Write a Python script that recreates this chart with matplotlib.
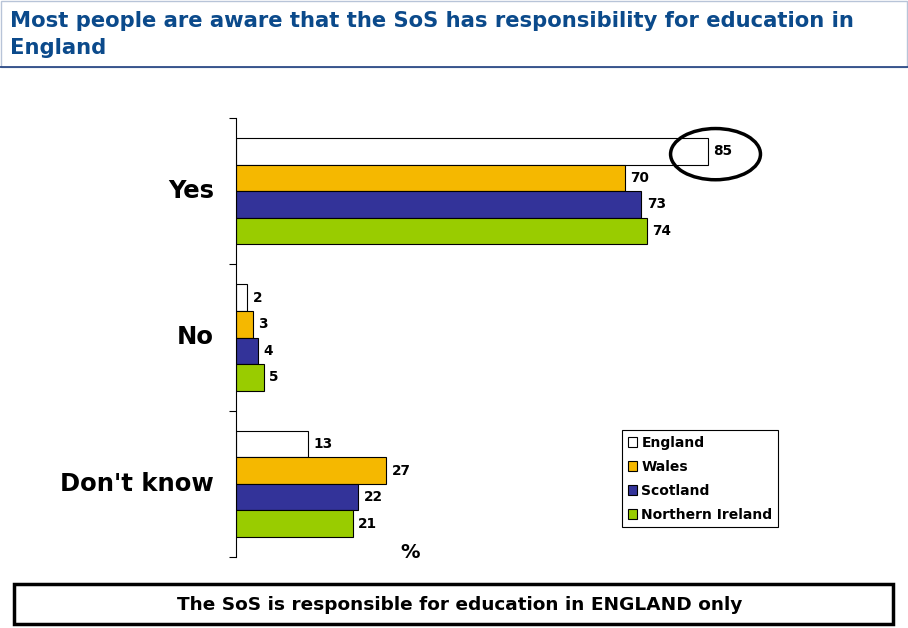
import numpy as np
import matplotlib.pyplot as plt
from matplotlib.patches import Rectangle, Ellipse

# data
categories = ["Yes", "No", "Don't know"]
england = [85, 2, 13]
wales = [70, 3, 27]
scotland = [73, 4, 22]
n_ireland = [74, 5, 21]
series_names = ["England", "Wales", "Scotland", "Northern Ireland"]
series_colors = ["#FFFFFF", "#F5B800", "#333399", "#99CC00"]

W, H = 908, 628
fig = plt.figure(figsize=(W / 100, H / 100), dpi=100)

# title panel frame
fig.patches.append(Rectangle((1 / W, 1 - 67 / H), 1 - 2 / W, 66 / H, transform=fig.transFigure,
                             fill=False, edgecolor="#B8C4D8", linewidth=1))
fig.add_artist(plt.Line2D([0, 1], [1 - 67 / H, 1 - 67 / H], transform=fig.transFigure,
                          color="#1F3F7F", linewidth=1.2))
fig.text(10 / W, 1 - 11 / H, "Most people are aware that the SoS has responsibility for education in\nEngland",
         ha="left", va="top", fontsize=15.2, fontweight="bold", color="#0B4A8B",
         family="DejaVu Sans", linespacing=1.42)

ax = fig.add_axes([236 / W, (H - 557) / H, 555 / W, 439 / H])

y = np.arange(len(categories))
step = 0.182
all_series = [england, wales, scotland, n_ireland]
for i, (vals, name, col) in enumerate(zip(all_series, series_names, series_colors)):
    pos = y + (i - 1.5) * step
    ax.barh(pos, vals, height=step, color=col, edgecolor="#000000", linewidth=0.8, label=name)
    for p, v in zip(pos, vals):
        ax.text(v + 1.0, p, str(v), ha="left", va="center", fontsize=9.8, fontweight="bold",
                family="DejaVu Sans")

ax.set_xlim(0, 100)
ax.set_ylim(2.5, -0.5)
ax.set_yticks([-0.5, 0.5, 1.5, 2.5])
ax.set_yticklabels([])
ax.tick_params(axis="y", direction="out", length=5, width=0.8)
for i, c in enumerate(categories):
    ax.text(-0.04, i, c, transform=ax.get_yaxis_transform(), ha="right", va="center",
            fontsize=17.5, fontweight="bold", family="DejaVu Sans")
ax.set_xticks([])
for s in ["top", "right", "bottom"]:
    ax.spines[s].set_visible(False)
ax.spines["left"].set_linewidth(0.8)

# highlight ring round England "Yes" value
ax.add_patch(Ellipse((england[0] + 1.4, -0.253), 16.2, 0.35, fill=False,
                     edgecolor="#000000", linewidth=2.5, clip_on=False))

ax.text(0.313, 0.01, "%", transform=ax.transAxes, ha="center", va="center",
        fontsize=14, fontweight="bold", family="DejaVu Sans")

leg = ax.legend(loc="upper left", bbox_to_anchor=((622 - 236) / 555, (557 - 430) / 439),
                frameon=True, fancybox=False, edgecolor="#000000", framealpha=1,
                prop={"family": "DejaVu Sans", "weight": "bold", "size": 10},
                handlelength=0.7, handleheight=0.7, handletextpad=0.3, labelspacing=0.72,
                borderpad=0.4, borderaxespad=0)
leg.get_frame().set_linewidth(0.8)

# bottom note box
fig.patches.append(Rectangle((14 / W, (H - 624) / H), 879 / W, 40 / H, transform=fig.transFigure,
                             fill=False, edgecolor="#000000", linewidth=2.5))
fig.text(460 / W, (H - 605) / H, "The SoS is responsible for education in ENGLAND only",
         ha="center", va="center", fontsize=13.3, fontweight="bold", family="DejaVu Sans")

fig.savefig("out.png", dpi=100)
